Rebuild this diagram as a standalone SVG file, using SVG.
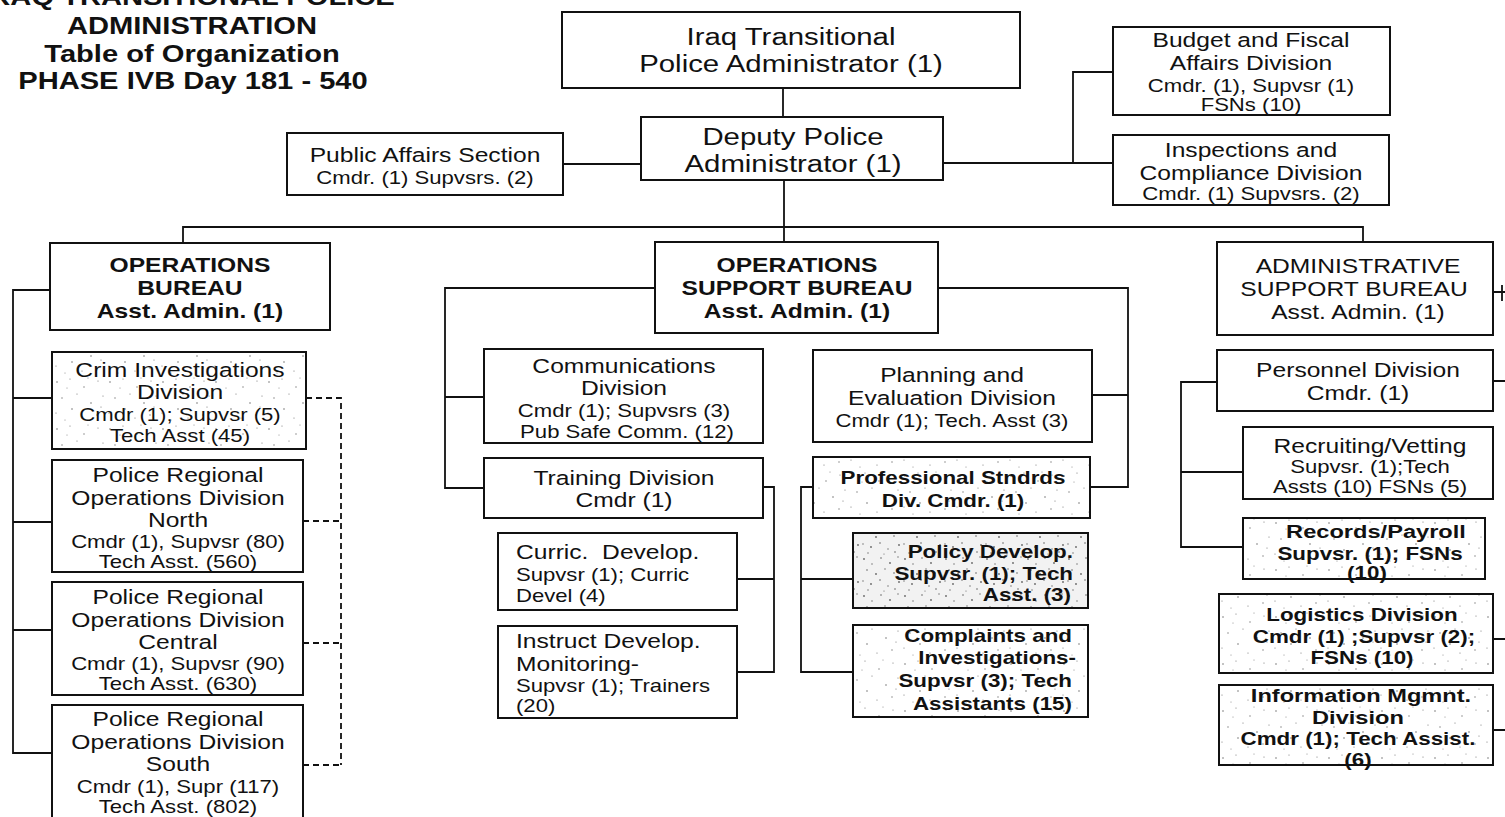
<svg xmlns="http://www.w3.org/2000/svg" width="1505" height="817" viewBox="0 0 1505 817">
<defs>
<pattern id="st" width="53" height="47" patternUnits="userSpaceOnUse">
<rect width="53" height="47" fill="#fff"/>
<g fill="#777">
<circle cx="4" cy="6" r="0.8"/><circle cx="17" cy="3" r="0.6"/><circle cx="31" cy="11" r="0.7"/><circle cx="45" cy="5" r="0.6"/>
<circle cx="9" cy="22" r="0.7"/><circle cx="24" cy="18" r="0.6"/><circle cx="38" cy="27" r="0.8"/><circle cx="50" cy="20" r="0.6"/>
<circle cx="3" cy="37" r="0.6"/><circle cx="19" cy="33" r="0.8"/><circle cx="29" cy="42" r="0.6"/><circle cx="44" cy="39" r="0.7"/>
<circle cx="12" cy="44" r="0.5"/><circle cx="35" cy="2" r="0.5"/><circle cx="48" cy="31" r="0.6"/><circle cx="14" cy="12" r="0.5"/>
</g>
</pattern>
<pattern id="st2" width="41" height="37" patternUnits="userSpaceOnUse">
<rect width="41" height="37" fill="#f2f2f2"/>
<g fill="#666">
<circle cx="3" cy="4" r="0.9"/><circle cx="11" cy="9" r="0.7"/><circle cx="20" cy="3" r="0.8"/><circle cx="29" cy="8" r="0.9"/><circle cx="37" cy="2" r="0.7"/>
<circle cx="6" cy="15" r="0.8"/><circle cx="15" cy="19" r="0.9"/><circle cx="24" cy="14" r="0.7"/><circle cx="33" cy="18" r="0.8"/>
<circle cx="2" cy="26" r="0.7"/><circle cx="10" cy="29" r="0.9"/><circle cx="19" cy="25" r="0.8"/><circle cx="27" cy="31" r="0.7"/><circle cx="38" cy="27" r="0.9"/>
<circle cx="7" cy="35" r="0.7"/><circle cx="23" cy="36" r="0.6"/><circle cx="34" cy="34" r="0.8"/>
</g>
</pattern>
</defs>
<style>
.b{fill:#fff;stroke:#111;stroke-width:2}
.s1{fill:url(#st);stroke:#111;stroke-width:2}
.s2{fill:url(#st2);stroke:#111;stroke-width:2}
.c{fill:none;stroke:#111;stroke-width:1.8}
.d{fill:none;stroke:#111;stroke-width:1.8;stroke-dasharray:6 4}
text{font-family:"Liberation Sans",Arial,sans-serif;fill:#111;text-anchor:middle;transform-box:fill-box;transform-origin:center;transform:scaleX(1.25)}
.l{text-anchor:start;transform-origin:left center}
.r{text-anchor:end;transform-origin:right center}
.m{font-size:19.7px}
.sm{font-size:17.7px}
.bb{font-size:19.7px;font-weight:bold}
.big{font-size:23.5px}
.ttl{font-size:23.3px;font-weight:bold}
.sb{font-size:17.9px;font-weight:bold}
.sbb{font-size:18.9px;font-weight:bold}
</style>
<rect width="1505" height="817" fill="#fff"/>

<g id="title">
<text class="ttl" x="188" y="5">IRAQ TRANSITIONAL POLICE</text>
<text class="ttl" x="192" y="34">ADMINISTRATION</text>
<text class="ttl" x="192" y="62">Table of Organization</text>
<text class="ttl" x="193" y="89">PHASE IVB Day 181 - 540</text>
</g>

<g id="connectors">
<path class="c" d="M783 88V117"/>
<path class="c" d="M563 164H641"/>
<path class="c" d="M943 163H1113M1073 163V72H1113"/>
<path class="c" d="M784 180V242"/>
<path class="c" d="M183 243V227H1363V242"/>
<path class="c" d="M50 290H13V753H52M13 398H52M13 522H52M13 630H52"/>
<path class="d" d="M306 398H341V765M303 521H341M303 643H341M303 765H341"/>
<path class="c" d="M655 288H445V488H484M445 397H484"/>
<path class="c" d="M763 487H774V672H737M737 579H774"/>
<path class="c" d="M938 288H1128V487H1090M1092 395H1128"/>
<path class="c" d="M813 487H801V672H853M801 579H853"/>
<path class="c" d="M1217 382H1181V547H1243M1181 472H1243"/>
<path class="c" d="M1493 292H1505M1502 285V301M1493 381H1505M1493 639H1505M1493 730H1505"/>
</g>

<g id="n-top">
<rect class="b" x="562" y="12" width="458" height="76"/>
<text class="big" x="791" y="45">Iraq Transitional</text>
<text class="big" x="791" y="72">Police Administrator (1)</text>
</g>
<g id="n-deputy">
<rect class="b" x="641" y="117" width="302" height="63"/>
<text class="big" x="793" y="145">Deputy Police</text>
<text class="big" x="793" y="172">Administrator (1)</text>
</g>
<g id="n-public">
<rect class="b" x="287" y="133" width="276" height="62"/>
<text class="m" x="425" y="162">Public Affairs Section</text>
<text class="sm" x="425" y="184">Cmdr. (1) Supvsrs. (2)</text>
</g>
<g id="n-budget">
<rect class="b" x="1113" y="27" width="277" height="88"/>
<text class="m" x="1251" y="47">Budget and Fiscal</text>
<text class="m" x="1251" y="70">Affairs Division</text>
<text class="sm" x="1251" y="92">Cmdr. (1), Supvsr (1)</text>
<text class="sm" x="1251" y="111">FSNs (10)</text>
</g>
<g id="n-inspections">
<rect class="b" x="1113" y="135" width="276" height="70"/>
<text class="m" x="1251" y="157">Inspections and</text>
<text class="m" x="1251" y="180">Compliance Division</text>
<text class="sm" x="1251" y="200">Cmdr. (1) Supvsrs. (2)</text>
</g>

<g id="n-ops">
<rect class="b" x="50" y="243" width="280" height="87"/>
<text class="bb" x="190" y="272">OPERATIONS</text>
<text class="bb" x="190" y="295">BUREAU</text>
<text class="bb" x="190" y="318">Asst. Admin. (1)</text>
</g>
<g id="n-crim">
<rect class="s1" x="52" y="352" width="254" height="97"/>
<text class="m" x="180" y="377">Crim Investigations</text>
<text class="m" x="180" y="399">Division</text>
<text class="sm" x="180" y="421">Cmdr (1); Supvsr (5)</text>
<text class="sm" x="180" y="442">Tech Asst (45)</text>
</g>
<g id="n-north">
<rect class="b" x="52" y="460" width="251" height="112"/>
<text class="m" x="178" y="482">Police Regional</text>
<text class="m" x="178" y="505">Operations Division</text>
<text class="m" x="178" y="527">North</text>
<text class="sm" x="178" y="548">Cmdr (1), Supvsr (80)</text>
<text class="sm" x="178" y="568">Tech Asst. (560)</text>
</g>
<g id="n-central">
<rect class="b" x="52" y="582" width="251" height="113"/>
<text class="m" x="178" y="604">Police Regional</text>
<text class="m" x="178" y="627">Operations Division</text>
<text class="m" x="178" y="649">Central</text>
<text class="sm" x="178" y="670">Cmdr (1), Supvsr (90)</text>
<text class="sm" x="178" y="690">Tech Asst. (630)</text>
</g>
<g id="n-south">
<rect class="b" x="52" y="705" width="251" height="115"/>
<text class="m" x="178" y="726">Police Regional</text>
<text class="m" x="178" y="749">Operations Division</text>
<text class="m" x="178" y="771">South</text>
<text class="sm" x="178" y="793">Cmdr (1), Supr (117)</text>
<text class="sm" x="178" y="813">Tech Asst. (802)</text>
</g>

<g id="n-osb">
<rect class="b" x="655" y="242" width="283" height="91"/>
<text class="bb" x="797" y="272">OPERATIONS</text>
<text class="bb" x="797" y="295">SUPPORT BUREAU</text>
<text class="bb" x="797" y="318">Asst. Admin. (1)</text>
</g>
<g id="n-comm">
<rect class="b" x="484" y="349" width="279" height="94"/>
<text class="m" x="624" y="373">Communications</text>
<text class="m" x="624" y="395">Division</text>
<text class="sm" x="624" y="417">Cmdr (1); Supvsrs (3)</text>
<text class="sm" x="627" y="438">Pub Safe Comm. (12)</text>
</g>
<g id="n-training">
<rect class="b" x="484" y="458" width="279" height="60"/>
<text class="m" x="624" y="485">Training Division</text>
<text class="m" x="624" y="507">Cmdr (1)</text>
</g>
<g id="n-curric">
<rect class="b" x="498" y="533" width="239" height="77"/>
<text class="m l" x="516" y="559" xml:space="preserve">Curric.  Develop.</text>
<text class="sm l" x="516" y="581">Supvsr (1); Curric</text>
<text class="sm l" x="516" y="602">Devel (4)</text>
</g>
<g id="n-instruct">
<rect class="b" x="498" y="626" width="239" height="92"/>
<text class="m l" x="516" y="648">Instruct Develop.</text>
<text class="m l" x="516" y="671">Monitoring-</text>
<text class="sm l" x="516" y="692">Supvsr (1); Trainers</text>
<text class="sm l" x="516" y="712">(20)</text>
</g>
<g id="n-planning">
<rect class="b" x="813" y="350" width="279" height="92"/>
<text class="m" x="952" y="382">Planning and</text>
<text class="m" x="952" y="405">Evaluation Division</text>
<text class="sm" x="952" y="427">Cmdr (1); Tech. Asst (3)</text>
</g>
<g id="n-prof">
<rect class="s1" x="813" y="457" width="277" height="61"/>
<text class="sb" x="953" y="484">Professional Stndrds</text>
<text class="sb" x="953" y="507">Div. Cmdr. (1)</text>
</g>
<g id="n-policy">
<rect class="s2" x="853" y="533" width="235" height="75"/>
<text class="sb r" x="1073" y="558">Policy Develop.</text>
<text class="sb r" x="1073" y="580">Supvsr. (1); Tech</text>
<text class="sb r" x="1071" y="601">Asst. (3)</text>
</g>
<g id="n-complaints">
<rect class="s1" x="853" y="625" width="235" height="92"/>
<text class="sb r" x="1072" y="642">Complaints and</text>
<text class="sb r" x="1076" y="664">Investigations-</text>
<text class="sb r" x="1072" y="687">Supvsr (3); Tech</text>
<text class="sb r" x="1072" y="710">Assistants (15)</text>
</g>

<g id="n-asb">
<rect class="b" x="1217" y="242" width="276" height="93"/>
<text class="m" x="1358" y="273">ADMINISTRATIVE</text>
<text class="m" x="1354" y="296">SUPPORT BUREAU</text>
<text class="m" x="1358" y="319">Asst. Admin. (1)</text>
</g>
<g id="n-personnel">
<rect class="b" x="1217" y="350" width="276" height="61"/>
<text class="m" x="1358" y="377">Personnel Division</text>
<text class="m" x="1358" y="400">Cmdr. (1)</text>
</g>
<g id="n-recruiting">
<rect class="b" x="1243" y="427" width="250" height="72"/>
<text class="m" x="1370" y="453">Recruiting/Vetting</text>
<text class="sm" x="1370" y="473">Supvsr. (1);Tech</text>
<text class="sm" x="1370" y="493">Assts (10) FSNs (5)</text>
</g>
<g id="n-records">
<rect class="s1" x="1243" y="518" width="242" height="61"/>
<text class="sbb" x="1376" y="538">Records/Payroll</text>
<text class="sb" x="1370" y="560">Supvsr. (1); FSNs</text>
<text class="sb" x="1367" y="579">(10)</text>
</g>
<g id="n-logistics">
<rect class="s1" x="1219" y="594" width="274" height="79"/>
<text class="sb" x="1362" y="621">Logistics Division</text>
<text class="sb" x="1364" y="643">Cmdr (1) ;Supvsr (2);</text>
<text class="sb" x="1362" y="664">FSNs (10)</text>
</g>
<g id="n-info">
<rect class="s1" x="1219" y="685" width="274" height="80"/>
<text class="sbb" x="1361" y="702">Information Mgmnt.</text>
<text class="sbb" x="1358" y="724">Division</text>
<text class="sb" x="1358" y="745">Cmdr (1); Tech Assist.</text>
<text class="sb" x="1358" y="766">(6)</text>
</g>
</svg>
